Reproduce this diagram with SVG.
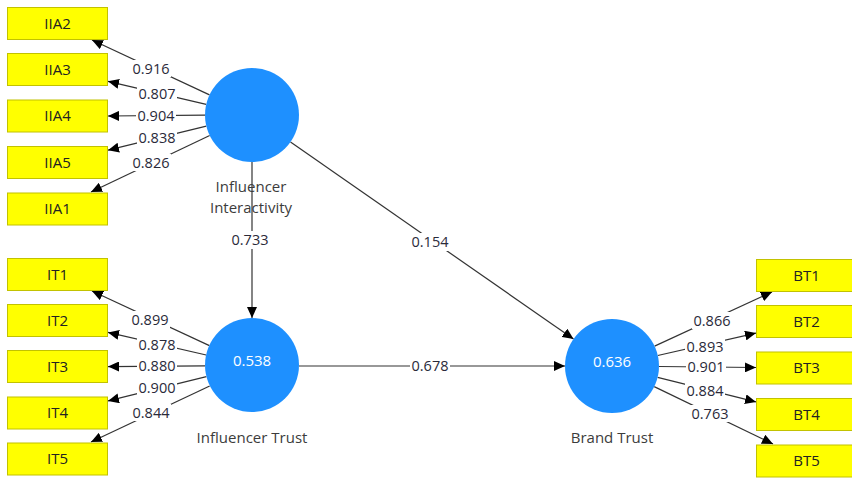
<svg xmlns="http://www.w3.org/2000/svg" width="852" height="478" viewBox="0 0 852 478">
<defs>
<marker id="ah" markerUnits="userSpaceOnUse" markerWidth="12" markerHeight="10" refX="11" refY="5" orient="auto">
<path d="M0,0 L11,5 L0,10 Z" fill="#000"/>
</marker>
<style>
.box{fill:#FFFF00;stroke:#C2C200;stroke-width:1}
.bt{font-family:"Open Sans","Noto Sans",sans-serif;font-size:15px;fill:#222;text-anchor:middle}
.lv{fill:#1E90FF}
.lvt{font-family:"Open Sans","Noto Sans",sans-serif;font-size:15px;fill:#fff;text-anchor:middle}
.lvn{font-family:"Open Sans","Noto Sans",sans-serif;font-size:15px;fill:#3c3c3c;text-anchor:middle}
.c{stroke:#333;stroke-width:1.2;fill:none;marker-end:url(#ah)}
.lb{fill:#fff}
.lt{font-family:"Open Sans","Noto Sans",sans-serif;font-size:14.5px;fill:#2a2a3a;text-anchor:middle}
</style>
</defs>
<rect width="852" height="478" fill="#fff"/>

<g id="connectors">
<line class="c" x1="209.5" y1="94.9" x2="92" y2="40"/>
<line class="c" x1="206.2" y1="104.3" x2="108" y2="81.3"/>
<line class="c" x1="205" y1="115.2" x2="108" y2="116"/>
<line class="c" x1="206.3" y1="126.2" x2="108" y2="150.2"/>
<line class="c" x1="209.7" y1="135.5" x2="91" y2="192"/>
<line class="c" x1="209.4" y1="345.6" x2="92" y2="291"/>
<line class="c" x1="206.2" y1="355" x2="108" y2="332.4"/>
<line class="c" x1="205" y1="365.9" x2="108" y2="366.6"/>
<line class="c" x1="206.4" y1="376.7" x2="108" y2="400.9"/>
<line class="c" x1="209.7" y1="386" x2="91" y2="442"/>
<line class="c" x1="654.6" y1="346.1" x2="772" y2="292"/>
<line class="c" x1="657.8" y1="355.5" x2="756" y2="333.1"/>
<line class="c" x1="659" y1="366.5" x2="756" y2="367.5"/>
<line class="c" x1="657.6" y1="377.4" x2="756" y2="401.9"/>
<line class="c" x1="654.2" y1="386.6" x2="773" y2="444"/>
<line class="c" x1="252" y1="162" x2="252" y2="318"/>
<line class="c" x1="290.5" y1="141.9" x2="573.5" y2="339.1"/>
<line class="c" x1="299" y1="366" x2="565" y2="366"/>
</g>

<g id="labels">
<rect class="lb" x="131" y="60" width="40" height="17"/><text class="lt" x="151" y="74">0.916</text>
<rect class="lb" x="137" y="85" width="40" height="17"/><text class="lt" x="157" y="99">0.807</text>
<rect class="lb" x="136" y="107" width="40" height="17"/><text class="lt" x="156" y="121">0.904</text>
<rect class="lb" x="137" y="129" width="40" height="17"/><text class="lt" x="157" y="143">0.838</text>
<rect class="lb" x="131" y="154" width="40" height="17"/><text class="lt" x="151" y="168">0.826</text>
<rect class="lb" x="130" y="311" width="40" height="17"/><text class="lt" x="150" y="325">0.899</text>
<rect class="lb" x="137" y="336" width="40" height="17"/><text class="lt" x="157" y="350">0.878</text>
<rect class="lb" x="137" y="357" width="40" height="17"/><text class="lt" x="157" y="371">0.880</text>
<rect class="lb" x="137" y="379" width="40" height="17"/><text class="lt" x="157" y="393">0.900</text>
<rect class="lb" x="131" y="404" width="40" height="17"/><text class="lt" x="151" y="418">0.844</text>
<rect class="lb" x="692" y="312" width="40" height="17"/><text class="lt" x="712" y="326">0.866</text>
<rect class="lb" x="685" y="338" width="40" height="17"/><text class="lt" x="705" y="352">0.893</text>
<rect class="lb" x="686" y="358" width="40" height="17"/><text class="lt" x="706" y="372">0.901</text>
<rect class="lb" x="685" y="382" width="40" height="17"/><text class="lt" x="705" y="396">0.884</text>
<rect class="lb" x="690" y="405" width="40" height="17"/><text class="lt" x="710" y="419">0.763</text>
<rect class="lb" x="230" y="231" width="40" height="18"/><text class="lt" x="250" y="245">0.733</text>
<rect class="lb" x="410" y="233" width="40" height="18"/><text class="lt" x="430" y="247">0.154</text>
<rect class="lb" x="410" y="357" width="40" height="18"/><text class="lt" x="430" y="371">0.678</text>
</g>

<g id="IIA2"><rect class="box" x="7.5" y="7.5" width="100" height="32"/><text class="bt" x="57.5" y="28.5">IIA2</text></g>
<g id="IIA3"><rect class="box" x="7.5" y="53.5" width="100" height="32"/><text class="bt" x="57.5" y="74.5">IIA3</text></g>
<g id="IIA4"><rect class="box" x="7.5" y="100" width="100" height="32"/><text class="bt" x="57.5" y="121">IIA4</text></g>
<g id="IIA5"><rect class="box" x="7.5" y="146.5" width="100" height="32"/><text class="bt" x="57.5" y="167.5">IIA5</text></g>
<g id="IIA1"><rect class="box" x="7.5" y="193" width="100" height="32"/><text class="bt" x="57.5" y="214">IIA1</text></g>

<g id="IT1"><rect class="box" x="7.5" y="258.5" width="100" height="32"/><text class="bt" x="57.5" y="279.5">IT1</text></g>
<g id="IT2"><rect class="box" x="7.5" y="304.5" width="100" height="32"/><text class="bt" x="57.5" y="325.5">IT2</text></g>
<g id="IT3"><rect class="box" x="7.5" y="350.5" width="100" height="32"/><text class="bt" x="57.5" y="371.5">IT3</text></g>
<g id="IT4"><rect class="box" x="7.5" y="397" width="100" height="32"/><text class="bt" x="57.5" y="418">IT4</text></g>
<g id="IT5"><rect class="box" x="7.5" y="443" width="100" height="32"/><text class="bt" x="57.5" y="464">IT5</text></g>

<g id="BT1"><rect class="box" x="756.5" y="259.5" width="100" height="32"/><text class="bt" x="806.5" y="280.5">BT1</text></g>
<g id="BT2"><rect class="box" x="756.5" y="305.5" width="100" height="32"/><text class="bt" x="806.5" y="326.5">BT2</text></g>
<g id="BT3"><rect class="box" x="756.5" y="352" width="100" height="32"/><text class="bt" x="806.5" y="373">BT3</text></g>
<g id="BT4"><rect class="box" x="756.5" y="398.5" width="100" height="32"/><text class="bt" x="806.5" y="419.5">BT4</text></g>
<g id="BT5"><rect class="box" x="756.5" y="445" width="100" height="32"/><text class="bt" x="806.5" y="466">BT5</text></g>

<g id="InfluencerInteractivity">
<circle class="lv" cx="252" cy="115" r="47"/>
<text class="lvn" x="251" y="192">Influencer</text>
<text class="lvn" x="251" y="213">Interactivity</text>
</g>
<g id="InfluencerTrust">
<circle class="lv" cx="252" cy="365" r="47"/>
<text class="lvt" x="252" y="366">0.538</text>
<text class="lvn" x="252" y="443">Influencer Trust</text>
</g>
<g id="BrandTrust">
<circle class="lv" cx="612" cy="366" r="47"/>
<text class="lvt" x="612" y="367">0.636</text>
<text class="lvn" x="612" y="443">Brand Trust</text>
</g>
</svg>
